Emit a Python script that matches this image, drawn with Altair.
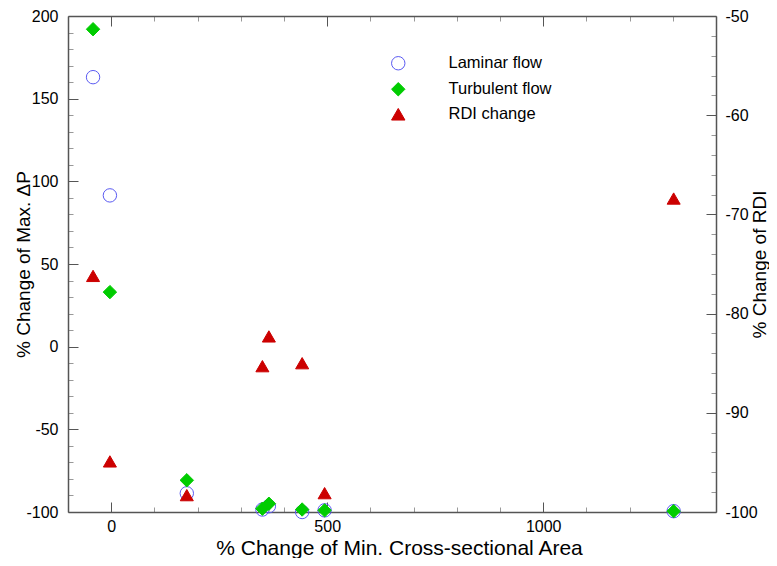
import altair as alt
import pandas as pd

# ---- data ----
series_names = ["Laminar flow", "Turbulent flow", "RDI change"]
area_change = [-42, -3, 175, 350, 365, 442, 494, 1302]
laminar_dp = [163, 91.5, -88.7, -98.5, -96.5, -100, -99, -99.5]
turbulent_dp = [192, 33, -80.8, -98, -95, -98.5, -99, -99.5]
rdi_change = [-76.2, -94.9, -98.3, -85.3, -82.3, -85.0, -98.1, -68.4]

x_major = [0, 500, 1000]
x_minor = [100, 200, 300, 400, 600, 700, 800, 900, 1100, 1200, 1300]
yl_major = [-100, -50, 0, 50, 100, 150, 200]
yl_minor = [v for v in range(-90, 200, 10) if v % 50 != 0]
yr_major = [-100, -90, -80, -70, -60, -50]
yr_minor = [v for v in range(-98, -50, 2) if v % 10 != 0]

BLUE = "#5a5af2"
GREEN = "#00cc00"
RED = "#cc0000"
FONT = "Liberation Sans"
LABEL_EXPR = "'' + datum.value"

dp_df = pd.DataFrame({
    "area": area_change + area_change,
    "value": laminar_dp + turbulent_dp,
    "series": [series_names[0]] * len(area_change) + [series_names[1]] * len(area_change),
})
rdi_df = pd.DataFrame({
    "area": area_change,
    "value": rdi_change,
    "series": [series_names[2]] * len(area_change),
})

x_scale = alt.Scale(domain=[-100, 1400], nice=False, zero=False)
yl_scale = alt.Scale(domain=[-100, 200], nice=False, zero=False)
yr_scale = alt.Scale(domain=[-100, -50], nice=False, zero=False)

shape_scale = alt.Scale(domain=series_names, range=["circle", "diamond", "triangle-up"])
fill_scale = alt.Scale(domain=series_names, range=["rgba(0,0,0,0)", GREEN, RED])
stroke_scale = alt.Scale(domain=series_names, range=[BLUE, GREEN, RED])

legend = alt.Legend(
    title=None, orient="none", legendX=322, legendY=39,
    labelOffset=42, rowPadding=8, symbolSize=180, symbolStrokeWidth=1,
    labelFontSize=16.5, labelFont=FONT, labelColor="black", padding=0,
)

enc_common = dict(
    shape=alt.Shape("series:N", scale=shape_scale, legend=legend),
    fill=alt.Fill("series:N", scale=fill_scale, legend=legend),
    stroke=alt.Stroke("series:N", scale=stroke_scale, legend=legend),
)


def tsz(v):
    return alt.ExprRef(expr=str(v))


pts_dp = alt.Chart(dp_df).mark_point(size=180, strokeWidth=1, opacity=1).encode(
    x=alt.X("area:Q", scale=x_scale, axis=alt.Axis(
        orient="bottom", values=x_major, tickSize=tsz(-10), labelPadding=16,
        labelExpr=LABEL_EXPR,
        title="% Change of Min. Cross-sectional Area", titleX=331, titleY=42,
        titleFontSize=21, titleBaseline="alphabetic", titleAlign="center")),
    y=alt.Y("value:Q", scale=yl_scale, axis=alt.Axis(
        orient="left", values=yl_major, tickSize=tsz(-10), labelPadding=20,
        labelExpr=LABEL_EXPR,
        title="% Change of Max. ΔP", titleX=-45, titleY=248, titleAngle=-90,
        titleBaseline="middle", titleAlign="center")),
    **enc_common,
)

pts_rdi = alt.Chart(rdi_df).mark_point(size=170, strokeWidth=1, opacity=1).encode(
    x=alt.X("area:Q", scale=x_scale, axis=alt.Axis(
        orient="top", values=x_major, tickSize=tsz(-10), labels=False, title=None)),
    y=alt.Y("value:Q", scale=yr_scale, axis=alt.Axis(
        orient="right", values=yr_major, tickSize=tsz(-10), labelPadding=19,
        labelExpr=LABEL_EXPR,
        title="% Change of RDI", titleX=49, titleY=248, titleAngle=-90,
        titleBaseline="alphabetic", titleAlign="center")),
    **enc_common,
)

minor_left = alt.Chart(dp_df).mark_point(opacity=0).encode(
    x=alt.X("area:Q", scale=x_scale, axis=alt.Axis(
        orient="bottom", values=x_minor, tickSize=tsz(-5), labels=False,
        domain=False, title=None, tickColor="#999")),
    y=alt.Y("value:Q", scale=yl_scale, axis=alt.Axis(
        orient="left", values=yl_minor, tickSize=tsz(-5), labels=False,
        domain=False, title=None, tickColor="#999")),
)

minor_right = alt.Chart(rdi_df).mark_point(opacity=0).encode(
    x=alt.X("area:Q", scale=x_scale, axis=alt.Axis(
        orient="top", values=x_minor, tickSize=tsz(-5), labels=False,
        domain=False, title=None, tickColor="#999")),
    y=alt.Y("value:Q", scale=yr_scale, axis=alt.Axis(
        orient="right", values=yr_minor, tickSize=tsz(-5), labels=False,
        domain=False, title=None, tickColor="#999")),
)

chart = alt.layer(minor_left, minor_right, pts_dp, pts_rdi).resolve_scale(
    y="independent"
).resolve_axis(
    x="independent", y="independent"
).properties(
    width=648, height=496,
    autosize=alt.AutoSizeParams(type="none"),
    padding={"left": 60, "top": 8, "right": 53, "bottom": 46},
).configure_view(
    stroke=None
).configure_axis(
    grid=False, domainColor="#555", domainWidth=1.5, tickColor="#555",
    tickWidth=1, labelFont=FONT, labelFontSize=16, labelColor="black",
    titleFont=FONT, titleFontSize=19, titleFontWeight="normal", titleColor="black",
)

chart.save("out.html", embed_options={"renderer": "svg", "actions": False})
